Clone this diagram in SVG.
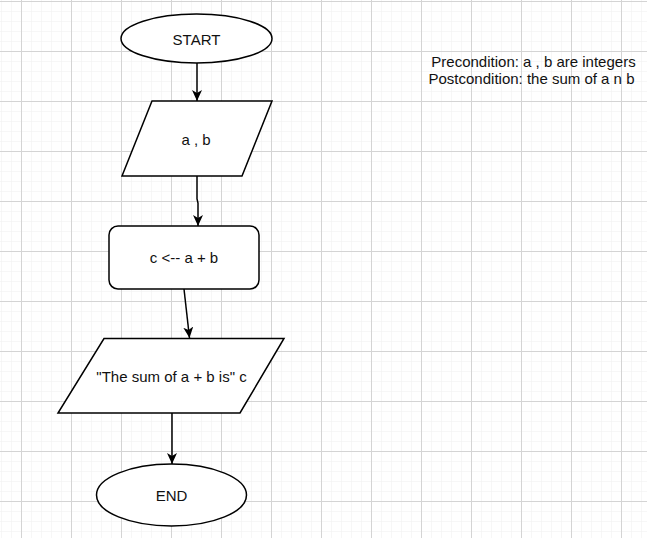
<svg xmlns="http://www.w3.org/2000/svg" width="647" height="538" viewBox="0 0 647 538">
  <style>
    .shape { fill: #ffffff; stroke: #000000; stroke-width: 1.5; }
    .label { font-family: "Liberation Sans", Arial, sans-serif; font-size: 15px; fill: #111111; text-anchor: middle; }
    .edge { fill: none; stroke: #000000; stroke-width: 1.5; }
  </style>
  <defs>
    <pattern id="minor" x="1" y="1" width="10" height="10" patternUnits="userSpaceOnUse">
      <path d="M0,0 H10 M0,0 V10" fill="none" stroke="#f0f0f0" stroke-width="1"/>
    </pattern>
    <pattern id="major" x="21" y="1" width="50" height="50" patternUnits="userSpaceOnUse">
      <path d="M0,0.5 H50 M0.5,0 V50" fill="none" stroke="#d4d4d4" stroke-width="1"/>
    </pattern>
    <marker id="arrow" viewBox="0 0 11 10" refX="11" refY="5" markerWidth="11" markerHeight="10" markerUnits="userSpaceOnUse" orient="auto">
      <path d="M0,0 L11,5 L0,10 L3,5 Z" fill="#000000"/>
    </marker>
  </defs>
  <rect x="0" y="0" width="647" height="538" fill="#ffffff"/>
  <rect x="0" y="0" width="647" height="538" fill="url(#minor)"/>
  <rect x="0" y="0" width="647" height="538" fill="url(#major)"/>

  <g id="connectors">
    <path class="edge" d="M197,63 V101" marker-end="url(#arrow)"/>
    <path class="edge" d="M197,176 V199 L198,203 V226" marker-end="url(#arrow)"/>
    <path class="edge" d="M184,289 L189.5,338" marker-end="url(#arrow)"/>
    <path class="edge" d="M172,413 V464" marker-end="url(#arrow)"/>
  </g>

  <g id="start">
    <ellipse class="shape" cx="196.5" cy="38.5" rx="75.5" ry="24.5"/>
    <text class="label" x="196.5" y="45">START</text>
  </g>

  <g id="input">
    <polygon class="shape" points="152,101 272,101 242,176 122,176"/>
    <text class="label" x="196" y="145">a , b</text>
  </g>

  <g id="process">
    <rect class="shape" x="109" y="226" width="150" height="63" rx="9" ry="9"/>
    <text class="label" x="184" y="263">c &lt;-- a + b</text>
  </g>

  <g id="output">
    <polygon class="shape" points="104,338.5 284,338.5 240,413 58,413"/>
    <text class="label" x="171.5" y="382">"The sum of a + b is" c</text>
  </g>

  <g id="end">
    <ellipse class="shape" cx="171.5" cy="495" rx="75" ry="31"/>
    <text class="label" x="171.5" y="501">END</text>
  </g>

  <g id="conditions">
    <text class="label" x="533.5" y="67">Precondition: a , b are integers</text>
    <text class="label" x="531.5" y="84">Postcondition: the sum of a n b</text>
  </g>
</svg>
